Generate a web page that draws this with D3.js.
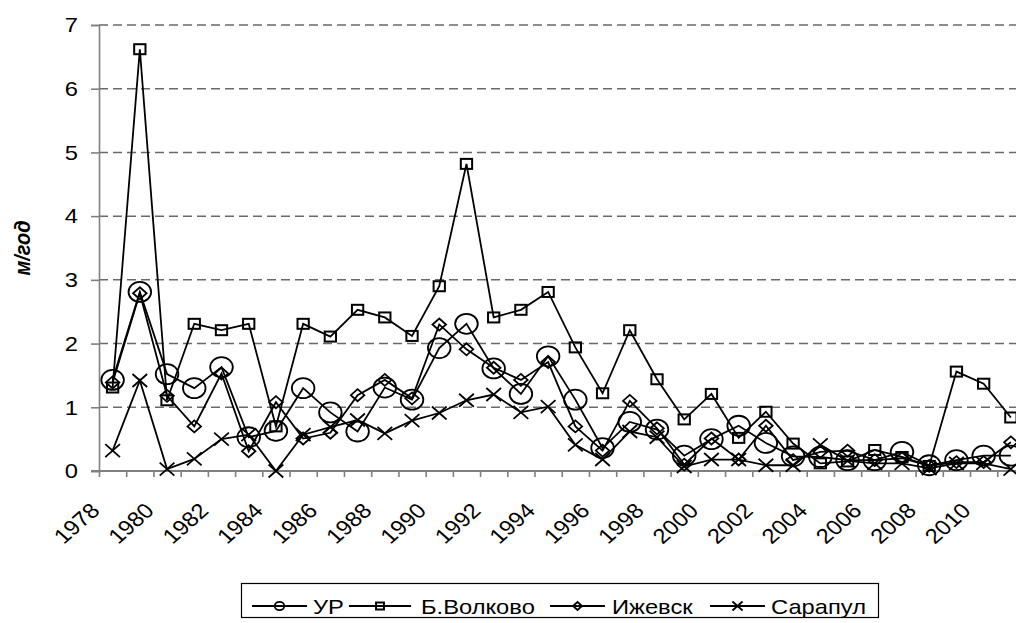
<!DOCTYPE html>
<html>
<head>
<meta charset="utf-8">
<script src="https://cdn.jsdelivr.net/npm/d3@7"></script>
<style>
  html, body { margin: 0; padding: 0; background: #fff; }
  svg { display: block; font-family: Arial, "Liberation Sans", sans-serif; }
</style>
</head>
<body>
<svg id="chart" width="1016" height="623"></svg>
<script>
// years on the category axis
const years = d3.range(1978, 2012);
const yTicks = [0, 1, 2, 3, 4, 5, 6, 7];

const ur = [1.43, 2.81, 1.52, 1.3, 1.63, 0.53, 0.63, 1.3, 0.92, 0.62, 1.31, 1.12, 1.93, 2.31, 1.61, 1.21,
  1.8, 1.12, 0.36, 0.77, 0.65, 0.24, 0.5, 0.71, 0.44, 0.23, 0.22, 0.17, 0.17, 0.3, 0.09, 0.17, 0.24, 0.24];
const volkovo = [1.31, 6.62, 1.11, 2.31, 2.21, 2.31, 0.7, 2.31, 2.11, 2.53, 2.41, 2.12, 2.9, 4.82, 2.41, 2.53,
  2.81, 1.94, 1.22, 2.21, 1.44, 0.81, 1.21, 0.52, 0.93, 0.43, 0.12, 0.15, 0.33, 0.22, 0.08, 1.56, 1.37, 0.84];
const izhevsk = [1.39, 2.79, 1.18, 0.7, 1.53, 0.31, 1.08, 0.51, 0.6, 1.19, 1.43, 1.14, 2.3, 1.91, 1.62, 1.43,
  1.71, 0.7, 0.32, 1.1, 0.67, 0.1, 0.51, 0.18, 0.71, 0.17, 0.3, 0.32, 0.17, 0.2, 0.08, 0.14, 0.14, 0.45];
const sarapul = [0.32, 1.42, 0.03, 0.19, 0.5, 0.57, 0.0, 0.57, 0.69, 0.8, 0.59, 0.79, 0.91, 1.11, 1.2, 0.92,
  1.01, 0.41, 0.18, 0.62, 0.53, 0.07, 0.18, 0.18, 0.09, 0.09, 0.41, 0.16, 0.12, 0.12, 0.04, 0.12, 0.12, 0.03];

const seriesNames = ['УР', 'Б.Волково', 'Ижевск', 'Сарапул'];
const seriesValues = [ur, volkovo, izhevsk, sarapul];
const seriesMarkers = ['circle', 'square', 'diamond', 'cross'];

const svg = d3.select('#chart');
const plotLeft = 99, plotTop = 25, plotBottom = 471;
const band = 27.22;
const stretch = 1.13; // the original picture is a bit wider than tall

const x = d3.scaleBand().domain(years).range([plotLeft, plotLeft + band * years.length]).padding(0);
const xEdge = d3.scaleLinear().domain([0, years.length]).range([plotLeft, plotLeft + band * years.length]);
const y = d3.scaleLinear().domain([0, 7]).range([plotBottom, plotTop]);

// dashed grid
svg.append('g')
  .selectAll('line')
  .data(yTicks.filter(d => d > 0))
  .join('line')
  .attr('x1', plotLeft)
  .attr('x2', 1016)
  .attr('y1', d => y(d))
  .attr('y2', d => y(d))
  .attr('stroke', '#6a6a6a')
  .attr('stroke-width', 1.5)
  .attr('stroke-dasharray', '9 5');

// y axis
const yAxis = svg.append('g')
  .attr('transform', `translate(${plotLeft},0)`)
  .call(d3.axisLeft(y).tickValues(yTicks).tickSize(8).tickFormat(d3.format('d')));
yAxis.select('.domain').attr('stroke', '#808080').attr('stroke-width', 1.6);
yAxis.selectAll('.tick line').attr('stroke', '#808080').attr('stroke-width', 1.6);
yAxis.selectAll('text')
  .attr('x', 0)
  .attr('transform', `translate(-21,0) scale(${stretch},1)`)
  .attr('font-size', 21)
  .attr('fill', '#000')
  .attr('font-family', 'Arial, "Liberation Sans", sans-serif');

// x axis: ticks at the category edges
const xAxis = svg.append('g')
  .attr('transform', `translate(0,${plotBottom})`)
  .call(d3.axisBottom(xEdge).tickValues(d3.range(years.length + 1)).tickSize(6).tickFormat(''));
xAxis.select('.domain').remove();
xAxis.append('line')
  .attr('x1', plotLeft - 8).attr('x2', 1016)
  .attr('stroke', '#808080').attr('stroke-width', 2);
xAxis.selectAll('.tick line').attr('stroke', '#808080').attr('stroke-width', 1.6);

svg.append('g')
  .selectAll('text')
  .data(years.filter((d, i) => i % 2 === 0))
  .join('text')
  .attr('transform', d => `translate(${x(d) + 2},${plotBottom + 41}) scale(${stretch},1) rotate(-45)`)
  .attr('text-anchor', 'end')
  .attr('font-size', 21)
  .text(d => d);

// axis title
svg.append('text')
  .attr('transform', `translate(30,${(plotTop + plotBottom) / 2}) rotate(-90) scale(1,${stretch})`)
  .attr('text-anchor', 'middle')
  .attr('font-size', 20)
  .attr('font-weight', 'bold')
  .attr('font-style', 'italic')
  .text('м/год');

function drawMarker(g, type, cx, cy, s) {
  const sx = s * stretch;
  if (type === 'circle') {
    g.append('ellipse').attr('cx', cx).attr('cy', cy).attr('rx', sx).attr('ry', s)
      .attr('fill', 'none').attr('stroke', '#000').attr('stroke-width', 1.8);
  } else if (type === 'square') {
    g.append('rect').attr('x', cx - sx).attr('y', cy - s).attr('width', 2 * sx).attr('height', 2 * s)
      .attr('fill', 'none').attr('stroke', '#000').attr('stroke-width', 2);
  } else if (type === 'diamond') {
    g.append('path').attr('d', `M${cx},${cy - s}L${cx + sx},${cy}L${cx},${cy + s}L${cx - sx},${cy}Z`)
      .attr('fill', 'none').attr('stroke', '#000').attr('stroke-width', 1.8);
  } else {
    g.append('path').attr('d', `M${cx - sx},${cy - s}L${cx + sx},${cy + s}M${cx - sx},${cy + s}L${cx + sx},${cy - s}`)
      .attr('fill', 'none').attr('stroke', '#000').attr('stroke-width', 1.8);
  }
}

const markerSize = { circle: 10, square: 5, diamond: 6, cross: 6.5 };
const line = d3.line()
  .x((d, i) => x(years[i]) + x.bandwidth() / 2)
  .y(d => y(d));

seriesValues.forEach((vals, si) => {
  const g = svg.append('g');
  g.append('path')
    .datum(vals)
    .attr('d', line)
    .attr('fill', 'none')
    .attr('stroke', '#000')
    .attr('stroke-width', 1.8);
  vals.forEach((v, i) => {
    drawMarker(g, seriesMarkers[si], x(years[i]) + x.bandwidth() / 2, y(v), markerSize[seriesMarkers[si]]);
  });
});

// legend
const legend = svg.append('g');
legend.append('rect')
  .attr('x', 241.5).attr('y', 583.5).attr('width', 637).attr('height', 34)
  .attr('fill', '#fff').attr('stroke', '#000').attr('stroke-width', 1.2);

const legendSmall = { circle: 4.2, square: 3.5, diamond: 4, cross: 4.5 };
const legendLines = [[252, 307], [349, 411], [550, 605], [710, 765]];
const legendText = [313, 421, 612, 771];
const ly = 606;
seriesNames.forEach((name, si) => {
  const [l0, l1] = legendLines[si];
  const g = legend.append('g');
  g.append('line').attr('x1', l0).attr('x2', l1).attr('y1', ly).attr('y2', ly)
    .attr('stroke', '#000').attr('stroke-width', 1.8);
  drawMarker(g, seriesMarkers[si], (l0 + l1) / 2, ly, legendSmall[seriesMarkers[si]]);
  g.append('text')
    .attr('transform', `translate(${legendText[si]},${ly + 7.5}) scale(${stretch},1)`)
    .attr('font-size', 21)
    .text(name);
});
</script>
</body>
</html>
